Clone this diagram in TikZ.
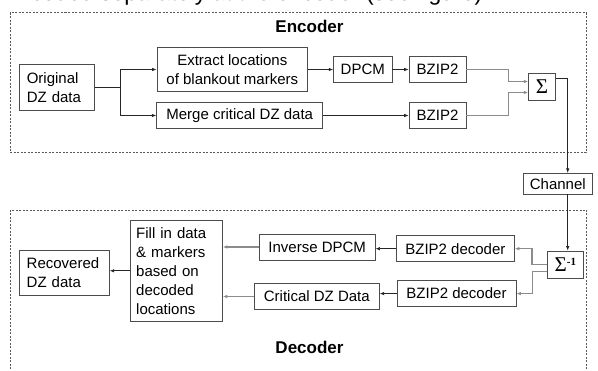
\documentclass[tikz,border=0pt]{standalone}
\usepackage{fontspec}
\setmainfont{Liberation Sans}
\newfontfamily\sigmafont{Liberation Serif}
\usepackage{tikz}
\usetikzlibrary{arrows.meta}

\begin{document}
\begin{tikzpicture}[x=1pt,y=-1pt,
    blk/.style={draw=black!70,line width=0.8pt,inner sep=0pt,minimum height=26pt,
      align=center,font=\fontsize{15}{18.5}\selectfont},
    txtblk/.style={blk,align=left},
    sumblk/.style={blk,minimum height=26.5pt,font=\fontsize{21}{24}\sigmafont},
    frame/.style={draw=black!65,line width=0.6pt,dash pattern=on 2pt off 1.5pt},
    head/.style={font=\fontsize{17}{20}\selectfont\bfseries},
    arr/.style={draw=black!85,line width=0.7pt,-{Latex[length=4.5pt,width=3.5pt]}},
    garr/.style={draw=black!45,line width=1.2pt,-{Latex[length=4.5pt,width=3.5pt]}}]

    \useasboundingbox (0,0) rectangle (598,371);
    \clip (0,0) rectangle (598,371);

    \node[anchor=base east,font=\fontsize{23}{28}\selectfont] (title) at (486,1)
      {coded separately at the encoder (see figure)};

    % encoder
    \draw[frame] (10,12.7) rectangle (586,152.7);
    \node[head] (enc) at (309.5,26) {Encoder};

    \node[txtblk,text width=60pt,inner xsep=7.5pt,minimum height=46.4pt] (orig)
      at (56.8,87.5) {Original\\DZ data};
    \node[blk,minimum width=150.7pt,minimum height=44.5pt] (ext)
      at (232.3,69.5) {Extract locations\\of blankout markers};
    \node[blk,minimum width=166pt] (merge) at (239.7,115.5) {Merge critical DZ data};
    \node[blk,minimum width=58.3pt] (dpcm) at (362.8,69.5) {DPCM};
    \node[blk,minimum width=57pt] (bz1) at (437.5,69.5) {BZIP2};
    \node[blk,minimum width=57pt] (bz2) at (437.5,115.5) {BZIP2};
    \node[sumblk,minimum width=26.6pt] (sig) at (542,87) {Σ};

    \draw[arr] (orig.east) -- ++(25.7,0) |- (ext.west);
    \draw[arr] (orig.east) -- ++(25.7,0) |- (merge.west);
    \draw[arr] (ext) -- (dpcm);
    \draw[arr] (dpcm) -- (bz1);
    \draw[arr] (merge) -- (bz2);
    \draw[garr] (bz1.east) -- ++(42.3,0) |- ([yshift=5.5pt]sig.west);
    \draw[garr] (bz2.east) -- ++(42.3,0) |- ([yshift=-5.5pt]sig.west);

    \node[blk,minimum width=69pt,minimum height=20.7pt] (chan)
      at (557.8,183.7) {Channel};
    \draw[arr] ([yshift=8.5pt]sig.east) -| ([xshift=9.9pt]chan.north);

    % decoder
    \draw[frame] (10,210) rectangle (586.5,390);
    \node[head] (dec) at (309.5,347) {Decoder};

    \node[sumblk,minimum width=36pt,minimum height=27pt] (isig)
      at (565.4,264.5) {Σ\raisebox{6pt}{\fontsize{11}{11}\selectfont\bfseries -1}};
    \draw[arr] ([xshift=9.9pt]chan.south) -- ([xshift=9.9pt]chan.south |- isig.north);

    \node[blk,minimum width=118pt] (bzd1) at (455.4,248.7) {BZIP2 decoder};
    \node[blk,minimum width=119pt] (bzd2) at (456.5,293.6) {BZIP2 decoder};
    \node[blk,minimum width=115.7pt] (inv) at (317.2,247) {Inverse DPCM};
    \node[blk,minimum width=125pt] (crit) at (316.8,296.5) {Critical DZ Data};
    \node[txtblk,text width=80pt,inner xsep=6.15pt,minimum height=100.3pt,
      font=\fontsize{15}{19}\selectfont] (fill)
      at (176.2,270.8) {Fill in data\\\& markers\\based on\\decoded\\locations};
    \node[txtblk,text width=75.2pt,inner xsep=7.4pt,minimum height=44.3pt] (rec)
      at (64.3,272.8) {Recovered\\DZ data};

    \draw[garr] (isig.west) -- ++(-15,0) |- (bzd1.east);
    \draw[garr] ([yshift=-7pt]isig.west) -- ++(-14.4,0) |- (bzd2.east);
    \draw[arr] (bzd1.west) -- (bzd1.west -| inv.east);
    \draw[arr] (bzd2.west) -- (bzd2.west -| crit.east);
    \draw[garr] (inv.west) -- (inv.west -| fill.east);
    \draw[garr] (crit.west) -- (crit.west -| fill.east);
    \draw[arr] (fill.west) -- (fill.west -| rec.east);

  \end{tikzpicture}
\end{document}
